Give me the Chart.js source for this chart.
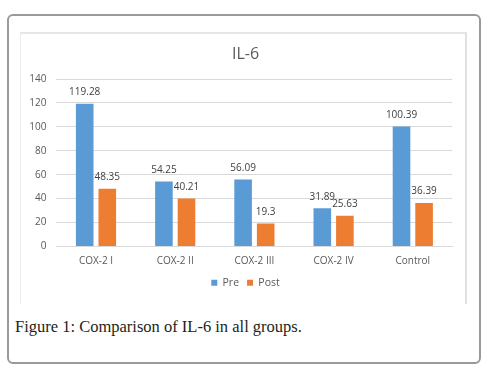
<!DOCTYPE html>
<html>
<head>
<meta charset="utf-8">
<script src="https://cdn.jsdelivr.net/npm/chart.js@4"></script>
<style>
  html, body { margin: 0; padding: 0; background: #ffffff; }
  body { width: 496px; height: 367px; position: relative; overflow: hidden; }
  #outer { position: absolute; left: 7px; top: 14px; width: 470px; height: 346px;
           border: 2px solid #9a9a9a; border-radius: 6px; box-sizing: content-box; }
  #inner { position: absolute; left: 20px; top: 32px; width: 444px; height: 270px;
           border-top: 2px solid #e6e6e6; border-left: 1px solid #ececec; border-right: 2px solid #e0e0e0; }
  #wrap { position: absolute; left: 22px; top: 35px; width: 447px; height: 266px; }
  #caption { position: absolute; left: 15px; top: 317px; font-family: "Liberation Serif", serif;
             font-size: 16.5px; color: #231f20; white-space: nowrap; }
</style>
</head>
<body>
<div id="outer"></div>
<div id="inner"></div>
<div id="wrap"><canvas id="c" width="447" height="266"></canvas></div>
<div id="caption">Figure 1: Comparison of IL-6 in all groups.</div>
<script>
const categories = ["COX-2 I", "COX-2 II", "COX-2 III", "COX-2 IV", "Control"];
const preValues = [119.28, 54.25, 56.09, 31.89, 100.39];
const postValues = [48.35, 40.21, 19.3, 25.63, 36.39];
const preLabels = ["119.28", "54.25", "56.09", "31.89", "100.39"];
const postLabels = ["48.35", "40.21", "19.3", "25.63", "36.39"];
const yTicks = [0, 20, 40, 60, 80, 100, 120, 140];

const labelPlugin = {
  id: 'valueLabels',
  afterDatasetsDraw(chart) {
    const ctx = chart.ctx;
    const texts = [preLabels, postLabels];
    ctx.save();
    ctx.font = '10px "Open Sans"';
    ctx.fillStyle = '#404040';
    ctx.textAlign = 'center';
    ctx.textBaseline = 'middle';
    chart.data.datasets.forEach((ds, di) => {
      chart.getDatasetMeta(di).data.forEach((bar, i) => {
        ctx.fillText(texts[di][i], bar.x, bar.y - 11.5);
      });
    });
    ctx.restore();
  }
};

new Chart(document.getElementById('c'), {
  type: 'bar',
  data: {
    labels: categories,
    datasets: [
      { label: 'Pre', data: preValues, backgroundColor: '#5b9bd5' },
      { label: 'Post', data: postValues, backgroundColor: '#ed7d31' }
    ]
  },
  options: {
    responsive: false,
    animation: false,
    devicePixelRatio: 1,
    layout: { padding: { left: 0, right: 0, top: 0, bottom: 3 } },
    datasets: { bar: { categoryPercentage: 0.57, barPercentage: 0.78 } },
    plugins: {
      title: {
        display: true, text: 'IL-6', color: '#595959',
        font: { family: 'Open Sans', size: 16, weight: 'normal' },
        padding: { top: 9.4, bottom: 15.4 }
      },
      legend: {
        position: 'bottom',
        labels: {
          color: '#595959', boxWidth: 6, boxHeight: 6, padding: 8,
          font: { family: 'Open Sans', size: 10.5 }
        }
      },
      tooltip: { enabled: false }
    },
    scales: {
      x: {
        afterFit(scale) { scale.height = 23; },
        grid: { display: false, drawTicks: false },
        border: { color: '#d9d9d9', width: 1 },
        ticks: { color: '#595959', font: { family: 'Open Sans', size: 10 }, padding: 9 }
      },
      y: {
        min: 0, max: 140,
        afterBuildTicks(scale) { scale.ticks = yTicks.map(v => ({ value: v })); },
        afterFit(scale) { scale.width = 34.4; },
        grid: { color: '#d9d9d9', drawTicks: false },
        border: { display: false },
        ticks: { color: '#595959', font: { family: 'Open Sans', size: 10 }, padding: 10 }
      },
      ySpacer: {
        position: 'right',
        min: 0, max: 140,
        afterFit(scale) { scale.width = 16.6; },
        grid: { display: false, drawTicks: false },
        border: { display: false },
        ticks: { display: false }
      }
    }
  },
  plugins: [labelPlugin]
});
</script>
</body>
</html>
